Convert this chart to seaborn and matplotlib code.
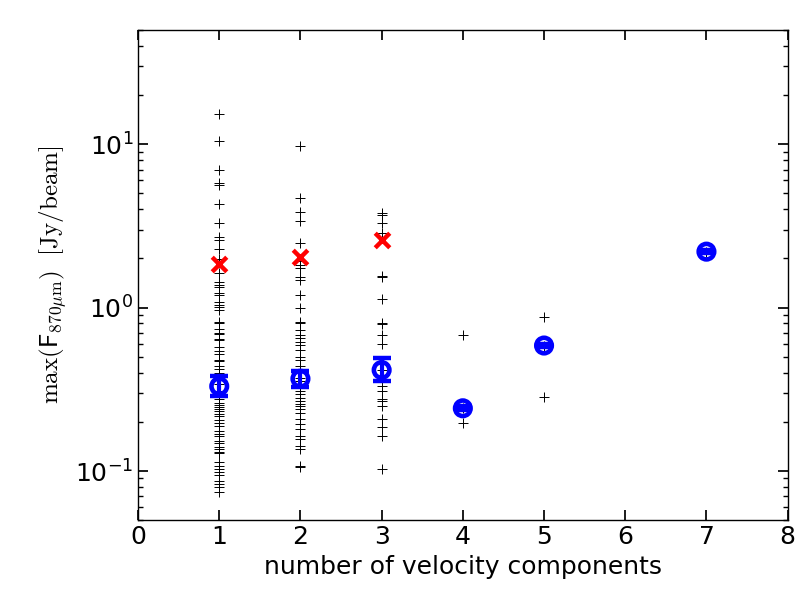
import numpy as np
import pandas as pd
import seaborn as sns
import matplotlib.pyplot as plt

# peak 870um flux [Jy/beam] of each clump, grouped by number of velocity components
flux_1 = [15.4, 10.5, 7.0, 5.8, 5.65, 4.3, 3.28, 2.72, 2.6, 2.28, 1.98, 1.63, 1.43,
          1.37, 1.34, 1.23, 1.2, 1.08, 1.04, 1.01, 0.97, 0.82, 0.81, 0.74, 0.70,
          0.69, 0.64, 0.63, 0.57, 0.54, 0.52, 0.48, 0.47, 0.44, 0.42, 0.40, 0.37,
          0.34, 0.31, 0.275, 0.262, 0.253, 0.245, 0.239, 0.233, 0.223, 0.216,
          0.206, 0.196, 0.189, 0.176, 0.168, 0.164, 0.153, 0.148, 0.140, 0.136,
          0.131, 0.129, 0.113, 0.108, 0.103, 0.098, 0.094, 0.087, 0.083, 0.080,
          0.074]
flux_2 = [9.77, 4.67, 3.87, 3.39, 2.50, 1.94, 1.83, 1.75, 1.55, 1.47, 1.20, 0.995,
          0.82, 0.80, 0.73, 0.68, 0.65, 0.62, 0.59, 0.55, 0.50, 0.48, 0.44, 0.37,
          0.355, 0.34, 0.32, 0.31, 0.295, 0.28, 0.27, 0.256, 0.25, 0.239, 0.228,
          0.207, 0.194, 0.18, 0.164, 0.157, 0.143, 0.136, 0.108, 0.106]
flux_3 = [3.81, 3.69, 3.28, 2.85, 1.57, 1.55, 1.13, 0.81, 0.79, 0.68, 0.60, 0.415,
          0.33, 0.31, 0.277, 0.268, 0.25, 0.207, 0.185, 0.163, 0.103]
flux_4 = [0.68, 0.242, 0.198]
flux_5 = [0.877, 0.586, 0.285]
flux_7 = [2.20]

# summary per group: median with uncertainty range
n_comp = [1, 2, 3, 4, 5, 7]
med = [0.33, 0.367, 0.415, 0.242, 0.586, 2.20]
med_lo = [0.286, 0.327, 0.355, 0.235, 0.572, 2.16]
med_hi = [0.38, 0.41, 0.49, 0.249, 0.600, 2.24]

# reference values (red crosses)
ref_comp = [1, 2, 3]
ref_flux = [1.84, 2.04, 2.60]

groups = {1: flux_1, 2: flux_2, 3: flux_3, 4: flux_4, 5: flux_5, 7: flux_7}
df = pd.DataFrame([(k, v) for k, vals in groups.items() for v in vals],
                  columns=["ncomp", "flux"])

sns.set_theme(style="ticks", rc={
    "xtick.direction": "in", "ytick.direction": "in",
    "xtick.top": True, "ytick.right": True,
    "xtick.major.size": 7, "ytick.major.size": 7,
    "ytick.minor.size": 3.5, "xtick.minor.size": 3.5,
    "axes.linewidth": 1.0, "axes.edgecolor": "black",
    "text.color": "black", "axes.labelcolor": "black",
    "xtick.color": "black", "ytick.color": "black",
    "axes.unicode_minus": False,
    "mathtext.fontset": "cm",
})
plt.rcParams["font.family"] = ["DejaVu Sans"]

fig = plt.figure(figsize=(8.12, 6.12), dpi=100)
ax = fig.add_axes([0.170, 0.150, 0.800, 0.801])

sns.scatterplot(data=df, x="ncomp", y="flux", marker="+", color="black",
                s=55, linewidth=0.7, ax=ax, zorder=2, legend=False)

sns.scatterplot(x=ref_comp, y=ref_flux, marker="x", color="red", s=110,
                linewidth=3.2, ax=ax, zorder=4, legend=False)

med = np.array(med)
yerr = np.vstack([med - np.array(med_lo), np.array(med_hi) - med])
ax.errorbar(n_comp, med, yerr=yerr, fmt="none", ecolor="blue", elinewidth=3,
            capsize=6.5, capthick=3.2, zorder=3)
sns.scatterplot(x=n_comp, y=med, marker="o", s=125, facecolor="none",
                edgecolor="blue", linewidth=3.3, ax=ax, zorder=5, legend=False)

ax.set_yscale("log")
ax.set_xlim(0, 8)
ax.set_ylim(0.05, 50)
ax.set_xticks(range(0, 9))
ax.tick_params(axis="both", which="major", labelsize=18)
ax.set_xlabel("number of velocity components", fontsize=18)
ax.set_ylabel(r"$\mathrm{max}(\mathsf{F}_{870\mu\mathrm{m}})\ \ [\mathrm{Jy/beam}]$",
              fontsize=18)

fig.savefig("out.png", dpi=100, facecolor="white")
